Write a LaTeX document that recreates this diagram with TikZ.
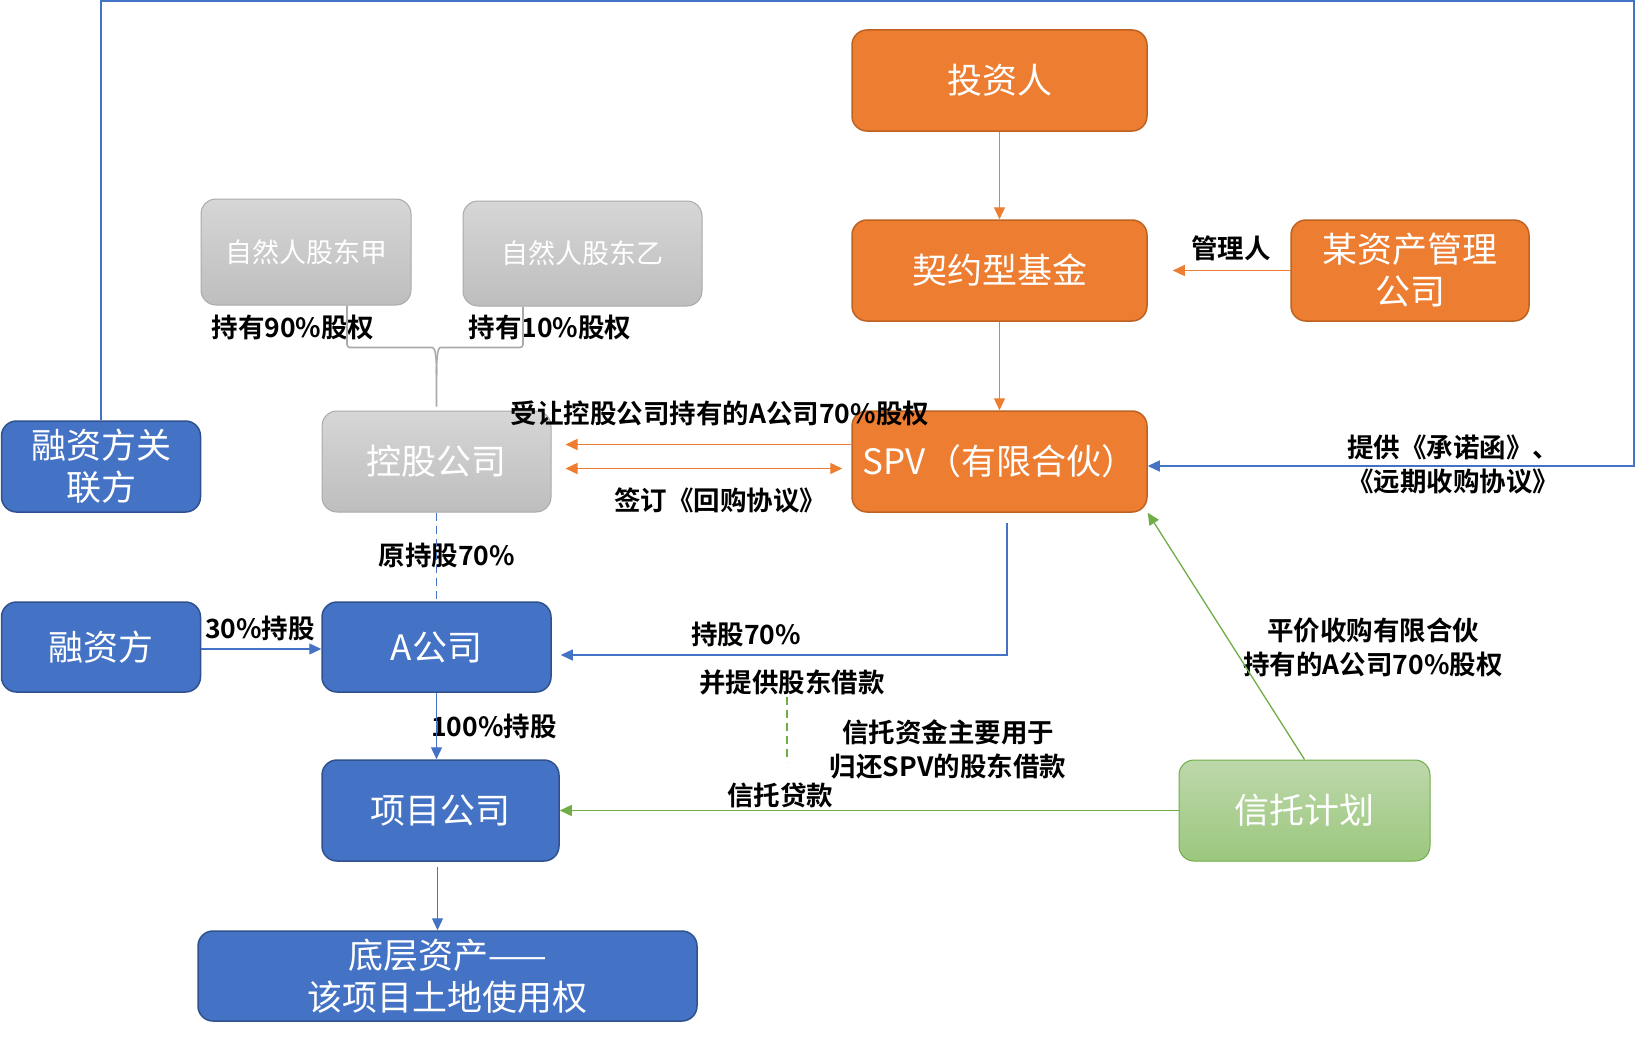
\documentclass[tikz,border=0pt]{standalone}
\usepackage{fontspec}
\setmainfont{Noto Sans CJK SC}
\setsansfont{Noto Sans CJK SC}
\newfontfamily\cjkbold{Noto Sans CJK SC Bold}
\usetikzlibrary{positioning,arrows.meta}
\definecolor{officeorange}{RGB}{237,125,49}
\definecolor{orangeedge}{RGB}{190,98,35}
\definecolor{officeblue}{RGB}{68,114,196}
\definecolor{blueedge}{RGB}{47,82,143}
\definecolor{officegreen}{RGB}{112,173,71}
\definecolor{greentop}{RGB}{189,216,170}
\definecolor{greenbot}{RGB}{156,199,126}
\definecolor{graytop}{RGB}{214,214,214}
\definecolor{graybot}{RGB}{190,190,190}
\definecolor{grayedge}{RGB}{170,170,170}
\tikzset{every picture/.style={/utils/exec={\sffamily}}}

\begin{document}
\begin{tikzpicture}[x=1pt, y=-1pt,
    entity/.style={rounded corners=15pt, line width=1.5pt, text=white, align=center, inner sep=0pt,
      font=\fontsize{35}{42}\selectfont},
    orangebox/.style={entity, fill=officeorange, draw=orangeedge},
    bluebox/.style={entity, fill=officeblue, draw=blueedge},
    graybox/.style={entity, top color=graytop, bottom color=graybot, draw=grayedge, line width=1pt},
    personbox/.style={graybox, font=\fontsize{27}{34}\selectfont},
    greenbox/.style={entity, top color=greentop, bottom color=greenbot, draw=officegreen, line width=1pt},
    lbl/.style={align=center, inner sep=1pt, font=\cjkbold\fontsize{26.5}{34}\selectfont},
    tip/.style={-{Triangle[length=12pt,width=11pt]}},
    orangeline/.style={tip, draw=officeorange, line width=1.4pt},
    blueline/.style={tip, draw=officeblue, line width=1.3pt},
    greenline/.style={tip, draw=officegreen, line width=1.3pt},
    braceline/.style={draw=grayedge, line width=1.6pt, rounded corners=3pt}]
  \useasboundingbox (0,0) rectangle (1636,1041);

  \node [orangebox, minimum width=295pt, minimum height=101pt] (touzi) at (999.5,80.5) {投资人};
  \node [orangebox, minimum width=295pt, minimum height=101pt] (jijin) at (999.5,270.5) {契约型基金};
  \node [orangebox, minimum width=238pt, minimum height=101pt] (zichan) at (1410,270.5) {某资产管理\\公司};
  \node [orangebox, minimum width=295pt, minimum height=101pt] (spv) at (999.5,461.5) {SPV（有限合伙）};

  \node [personbox, minimum width=210pt, minimum height=106pt] (jia) at (306,252) {自然人股东甲};
  \node [personbox, minimum width=239pt, minimum height=105pt] (yi) at (582.5,253.5) {自然人股东乙};
  \node [graybox, minimum width=229pt, minimum height=101pt] (kong) at (436.5,461.5) {控股公司};

  \node [bluebox, minimum width=199pt, minimum height=91pt] (guanlian) at (101,466.5) {融资方关\\联方};
  \node [bluebox, minimum width=199pt, minimum height=90pt] (rongzi) at (101,647) {融资方};
  \node [bluebox, minimum width=229pt, minimum height=90pt] (agongsi) at (436.5,647) {A公司};
  \node [bluebox, minimum width=237pt, minimum height=101pt] (xiangmu) at (440.5,810.5) {项目公司};
  \node [bluebox, minimum width=499pt, minimum height=90pt] (diceng) at (447.5,976) {底层资产——\\该项目土地使用权};

  \node [greenbox, minimum width=251pt, minimum height=101pt] (xintuo) at (1304.5,810.5) {信托计划};

  % labels
  \node [lbl] (lblguanli) at (1231,248) {管理人};
  \node [lbl] (lbl90) at (293,327) {持有90\%股权};
  \node [lbl] (lbl10) at (550,327) {持有10\%股权};
  \node [lbl] (lblshourang) at (720,413) {受让控股公司持有的A公司70\%股权};
  \node [lbl] (lblhuigou) at (720,500) {签订《回购协议》};
  \node [lbl] (lblyuan) at (447,555) {原持股70\%};
  \node [lbl] (lbl30) at (260,628) {30\%持股};
  \node [lbl] (lbl100) at (494,726) {100\%持股};
  \node [lbl] (lblchigu) at (746,634) {持股70\%};
  \node [lbl] (lbljiekuan) at (792,682) {并提供股东借款};
  \node [lbl] (lblguihuan) at (948,749) {信托资金主要用于\\归还SPV的股东借款};
  \node [lbl] (lbldaikuan) at (780,795) {信托贷款};
  \node [lbl] (lblpingjia) at (1373,647) {平价收购有限合伙\\持有的A公司70\%股权};
  \node [lbl] (lblchengnuo) at (1453,465) {提供《承诺函》、\\《远期收购协议》};

  \coordinate (topright) at (1634,1);
  \coordinate (gtop) at (787,697);
  \coordinate (gbot) at (787,762);

  \draw [orangeline] (touzi) -- (jijin);
  \draw [orangeline] (jijin) -- (spv);
  \draw [orangeline] (zichan.west) -- ([xshift=25pt]jijin.east);
  \draw [orangeline] ([yshift=17pt]spv.west) -- ([xshift=14pt,yshift=17pt]kong.east);
  \draw [orangeline, {Triangle[length=12pt,width=11pt]}-{Triangle[length=12pt,width=11pt]}]
    ([xshift=14pt,yshift=-7pt]kong.east) -- ([xshift=-9pt,yshift=-7pt]spv.west);

  \draw [braceline] ([xshift=41pt]jia.south) |- ([xshift=-7pt,yshift=63pt]kong.north)
    .. controls +(6pt,0pt) and +(0pt,16pt) .. ([yshift=36pt]kong.north) -- ([yshift=4pt]kong.north);
  \draw [braceline] ([xshift=-59.5pt]yi.south) |- ([xshift=7pt,yshift=63pt]kong.north)
    .. controls +(-6pt,0pt) and +(0pt,16pt) .. ([yshift=36pt]kong.north);

  \draw [blueline, -, dash pattern=on 8pt off 5pt] (kong) -- (agongsi);
  \draw [blueline] ([yshift=-2pt]rongzi.east) -- ([yshift=-2pt]agongsi.west);
  \draw [blueline] (agongsi.south) -- (agongsi.south |- xiangmu.north);
  \draw [blueline] ([xshift=-3pt,yshift=-5pt]xiangmu.south) -- ([xshift=-3pt]xiangmu.south |- diceng.north);
  \draw [blueline] ([xshift=7.5pt,yshift=-10pt]spv.south) |- ([xshift=9pt,yshift=-8pt]agongsi.east);
  \draw [blueline] (guanlian.north) |- (topright) |- ([yshift=-4.5pt]spv.east);

  \draw [greenline] (xintuo.west) -- (xiangmu.east);
  \draw [greenline] (xintuo.north) -- (spv.south east);
  \draw [greenline, -, dash pattern=on 8pt off 5pt] (gtop) -- (gbot);

\end{tikzpicture}
\end{document}
